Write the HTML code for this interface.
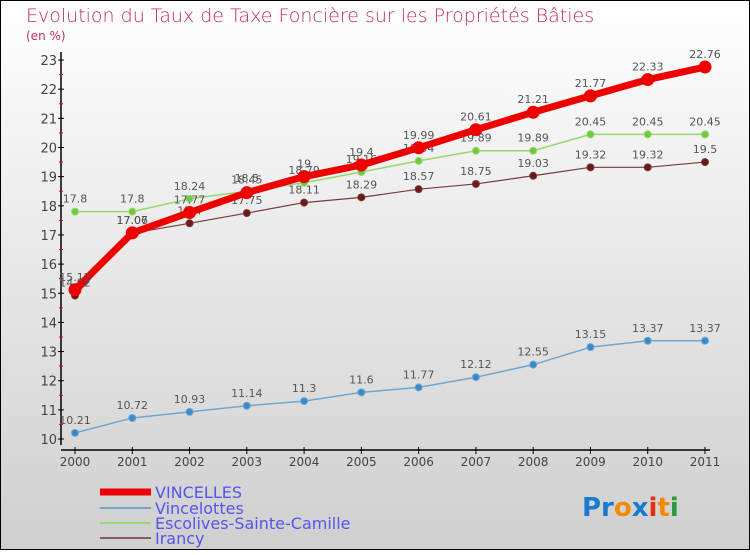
<!DOCTYPE html>
<html><head><meta charset="utf-8"><style>
body{margin:0;}
svg text{font-family:"DejaVu Sans","Liberation Sans",sans-serif;}
</style></head><body>
<svg width="750" height="550" xmlns="http://www.w3.org/2000/svg" id="chart">
<defs><linearGradient id="bg" x1="0" y1="0" x2="0" y2="1"><stop offset="0" stop-color="#ffffff"/><stop offset="1" stop-color="#cfcfcf"/></linearGradient></defs>
<rect x="0.5" y="0.5" width="749" height="549" fill="url(#bg)" stroke="#000"/>
<text x="26" y="22" font-size="19" fill="#c0305a" style="font-weight:200">Evolution du Taux de Taxe Foncière sur les Propriétés Bâties</text>
<text x="26" y="40" font-size="12" fill="#c0305a">(en %)</text>
<g id="axes"></g>
<g id="series"></g>
<g font-size="16" fill="#5555ee">
<line x1="100" y1="492" x2="151" y2="492" stroke="#e00" stroke-width="7"/><text x="155" y="498">VINCELLES</text>
<line x1="100" y1="508" x2="151" y2="508" stroke="#6fa6d0" stroke-width="2"/><text x="155" y="514">Vincelottes</text>
<line x1="100" y1="523" x2="151" y2="523" stroke="#96d870" stroke-width="2"/><text x="155" y="529">Escolives-Sainte-Camille</text>
<line x1="100" y1="538" x2="151" y2="538" stroke="#8a5a5a" stroke-width="2"/><text x="155" y="544">Irancy</text>
</g>
<text x="582" y="516" font-size="26" font-weight="bold"><tspan fill="#1a7ad0">Pr</tspan><tspan fill="#f08a00">o</tspan><tspan fill="#1a7ad0">x</tspan><tspan fill="#e03010">i</tspan><tspan fill="#f08a00">t</tspan><tspan fill="#2a9a3a">i</tspan></text>
</svg>
<script>
const years=[2000,2001,2002,2003,2004,2005,2006,2007,2008,2009,2010,2011];
const yTicks=[10,11,12,13,14,15,16,17,18,19,20,21,22,23];
const vincelles=[15.12,17.07,17.77,18.45,19,19.4,19.99,20.61,21.21,21.77,22.33,22.76];
const vincelottes=[10.21,10.72,10.93,11.14,11.3,11.6,11.77,12.12,12.55,13.15,13.37,13.37];
const escolives=[17.8,17.8,18.24,18.5,18.79,19.16,19.54,19.89,19.89,20.45,20.45,20.45];
const irancy=[14.92,17.06,17.4,17.75,18.11,18.29,18.57,18.75,19.03,19.32,19.32,19.5];
const NS="http://www.w3.org/2000/svg";
const x=i=>75+i*(630/(years.length-1));
const y=v=>439-(v-10)*29.15;
function mk(t,a,p){const e=document.createElementNS(NS,t);for(const k in a)e.setAttribute(k,a[k]);p.appendChild(e);return e;}
const ax=document.getElementById('axes');
mk('line',{x1:61,y1:52,x2:61,y2:445,stroke:'#000','stroke-width':1.5},ax);
mk('line',{x1:61,y1:450,x2:710,y2:450,stroke:'#000','stroke-width':1.5},ax);
yTicks.forEach(v=>{
 mk('line',{x1:58,y1:y(v),x2:64,y2:y(v),stroke:'#000'},ax);
 if(v<23)mk('line',{x1:59,y1:y(v+0.5),x2:63,y2:y(v+0.5),stroke:'#e00'},ax);
 const t=mk('text',{x:57,y:y(v)+5,'font-size':13,fill:'#444','text-anchor':'end'},ax);
 
 
 t.textContent=v;
});
years.forEach((yr,i)=>{
 mk('line',{x1:x(i),y1:447,x2:x(i),y2:454,stroke:'#000'},ax);
 const t=mk('text',{x:x(i),y:466,'font-size':12,fill:'#444','text-anchor':'middle'},ax);
 
 
 t.textContent=yr;
});
const sg=document.getElementById('series');
function series(name,vals,color,w,r,dot){
 const g=mk('g',{},sg);
 
 
 mk('polyline',{points:vals.map((v,i)=>x(i)+','+y(v)).join(' '),fill:'none',stroke:color,'stroke-width':w,'stroke-linejoin':'round'},g);
 vals.forEach((v,i)=>{
  const c=mk('circle',{cx:x(i),cy:y(v),r:r,fill:dot,stroke:color,'stroke-width':1},g);
  
  
  const t=mk('text',{x:x(i),y:y(v)-9,'font-size':11,fill:'#555','text-anchor':'middle'},g);
  
  
  t.textContent=v;
 });
}
series('vincelottes',vincelottes,'#6fa6d0',1.5,3.5,'#3a8ac8');
series('escolives',escolives,'#96d870',1.5,3.5,'#70c840');
series('irancy',irancy,'#7a3a3a',1.2,3.5,'#6a1a1a');
series('vincelles',vincelles,'#e00',7,6,'#e00');
</script>
</body></html>
